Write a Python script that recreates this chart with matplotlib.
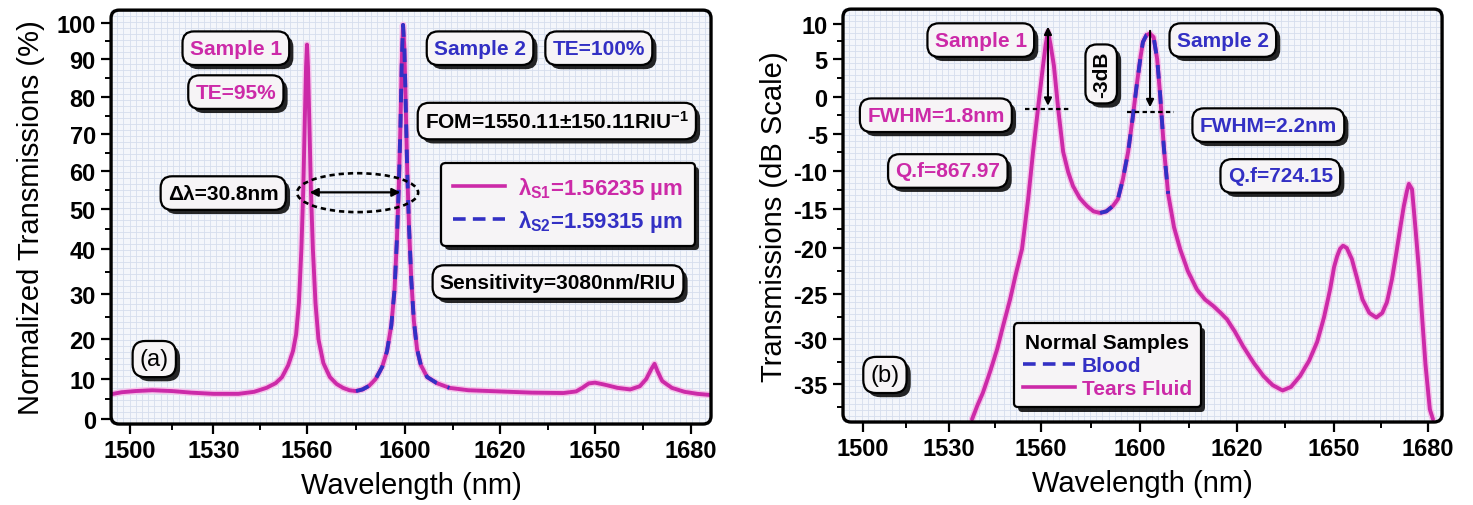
import matplotlib
matplotlib.use('Agg')
import matplotlib.pyplot as plt
import numpy as np
from matplotlib.patches import Ellipse, FancyBboxPatch
from matplotlib.lines import Line2D
import matplotlib.patheffects as pe
import matplotlib.ticker as mticker

plt.rcParams['font.family'] = ['Liberation Sans', 'DejaVu Sans']
plt.rcParams['axes.unicode_minus'] = False
plt.rcParams['mathtext.fontset'] = 'custom'
plt.rcParams['mathtext.rm'] = 'Liberation Sans'
plt.rcParams['mathtext.bf'] = 'Liberation Sans:bold'
plt.rcParams['mathtext.it'] = 'Liberation Sans:italic'

# ---------------- data ----------------
# x ticks (printed labels of the original; the "1600" tick sits where 1590 would be)
tick_pos = [1500, 1530, 1560, 1590, 1620, 1650, 1680]
tick_labels = ['1500', '1530', '1560', '1600', '1620', '1650', '1680']

# the original image is not evenly spaced: tick values and their image columns/rows
a_xt_vals = [1470, 1500, 1530, 1560, 1590, 1620, 1650, 1680, 1710]
a_xt_cols = [46.5, 130, 213.5, 307, 405, 500, 595, 691, 787]
b_xt_vals = [1470, 1500, 1530, 1560, 1590, 1620, 1650, 1680, 1710]
b_xt_cols = [777, 863, 949, 1041, 1140, 1237, 1334, 1428, 1522]
a_yt_vals = [-10, 0, 10, 20, 30, 40, 50, 60, 70, 80, 90, 100, 110]
a_yt_rows = [460, 420, 380, 340, 295, 250, 210, 172, 135, 98, 60, 24, -12]
b_yt_vals = [-45, -35, -30, -25, -20, -15, -10, -5, 0, 5, 10, 15]
b_yt_rows = [475, 385, 340, 295, 249, 210, 172, 135, 98, 60, 25, -10]

# panel (a): normalized transmission (%)
a_x = [1493.2, 1497, 1502, 1508, 1515, 1522, 1530, 1538, 1543, 1547, 1550, 1552,
       1554, 1555.5, 1556.5, 1557.4, 1558.2, 1558.8, 1559.3, 1559.7, 1560.0,
       1560.3, 1560.7, 1561.2, 1561.8, 1562.6, 1563.5, 1565, 1567, 1569, 1571,
       1573, 1575, 1577, 1579, 1581, 1583, 1584.5, 1585.8, 1586.8, 1587.5, 1588.1,
       1588.6, 1589.0, 1589.4, 1589.8, 1590.2, 1590.7, 1591.3, 1592.0, 1592.8,
       1593.8, 1595, 1597, 1600, 1604, 1610, 1620, 1630, 1640, 1644, 1646, 1648,
       1650, 1653, 1657, 1661, 1664, 1666, 1667.6, 1668.6, 1669.5, 1671, 1674,
       1678, 1682, 1686.3]
a_y = [6.2, 6.7, 7.0, 7.2, 7.0, 6.6, 6.3, 6.3, 6.8, 7.8, 9.0, 10.5,
       13.5, 17, 21, 28, 40, 55, 74, 88, 94,
       88, 74, 55, 40, 28, 20, 14, 10.5, 8.8, 7.8,
       7.2, 7.0, 7.4, 8.3, 10, 13, 17, 23, 31, 42, 56,
       72, 89, 99.5, 93, 79, 60, 45, 33, 24,
       17.5, 13.5, 10.5, 9.0, 7.8, 7.2, 6.9, 6.6, 6.5, 6.9, 7.8, 8.9,
       9.1, 8.6, 7.8, 7.4, 8.2, 10, 12.5, 13.8, 12, 9.5, 7.8,
       6.8, 6.3, 6.0]
a_s2_range = (1574, 1606)          # span where the Sample 2 (dashed) trace shows
a_delta_y = 54.4                   # height of the delta-lambda arrow
a_delta_x = (1560.8, 1588.6)

# panel (b): transmission (dB)
b_x = [1537.5, 1539.2, 1541.1, 1543.4, 1545.7, 1547.8, 1549.9, 1551.8, 1553.8,
       1555.8, 1557.4, 1559.0, 1560.6, 1561.4, 1562.1, 1562.9, 1563.9, 1565.2,
       1566.7, 1568.2, 1569.7, 1571.8, 1573.9, 1575.9, 1577.9, 1579.8, 1581.8,
       1583.3, 1584.8, 1586.4, 1587.7, 1588.9, 1590.2, 1590.9, 1592.0, 1593.1,
       1594.2, 1595.3, 1596.2, 1597.4, 1598.7, 1600.5, 1602.4, 1604.8, 1607.6,
       1610.1, 1612.6, 1614.7, 1616.9, 1619.4, 1621.9, 1625.1, 1628.2, 1631.0,
       1634.1, 1636.7, 1639.5, 1642.3, 1644.8, 1646.9, 1648.8, 1650.0, 1651.0,
       1651.9, 1652.9, 1654.1, 1655.7, 1657.3, 1659.1, 1661.3, 1663.5, 1665.4,
       1666.9, 1668.5, 1670.1, 1671.4, 1672.3, 1673.3, 1673.9, 1674.9, 1676.1,
       1677.1, 1678.1, 1679.2, 1680.6, 1681.6]
b_y = [-38.9, -37.4, -35.9, -33.6, -31.1, -28.3, -25.6, -22.8, -20.1,
       -13.7, -7.4, -1.6, 4.1, 7.0, 8.9, 7.0, 4.1, -1.6,
       -7.4, -10.1, -12.0, -13.6, -14.6, -15.3, -15.5, -15.3, -14.6,
       -13.7, -11.1, -7.4, -3.1, 1.2, 5.4, 7.4, 8.4, 8.6,
       8.1, 5.0, 0.4, -7.0, -13.0, -17.3, -20.1, -22.5, -24.5,
       -25.6, -26.3, -27.0, -27.8, -29.2, -30.8, -32.6, -34.1, -35.1,
       -35.7, -35.3, -34.1, -32.4, -30.3, -27.6, -24.5, -22.1, -20.9,
       -20.1, -19.7, -20.0, -21.2, -23.2, -25.6, -27.1, -27.6, -27.1,
       -25.9, -23.4, -20.1, -16.8, -14.6, -12.6, -11.7, -12.4, -17.9,
       -22.3, -27.4, -32.8, -37.8, -38.9]
b_s2_range = (1576, 1599)
b_fwhm_y = (-1.6, -2.0)
b_fwhm_x = ((1554.8, 1568.8), (1586.1, 1600.5))
b_arrow_x = (1562.1, 1593.1)
b_arrow_y = ((9.6, -1.2), (9.0, -1.4))

# ---------------- style ----------------
MAG = '#cc2aa8'
BLU = '#3330c4'
BOXFC = '#f6f4f6'

fig = plt.figure(figsize=(14.73, 5.06), dpi=100)
axA = fig.add_axes([0.0754, 0.160, 0.4073, 0.818])
axB = fig.add_axes([0.5723, 0.164, 0.4067, 0.816])


def warp(vals, pos, flip):
    v = np.asarray(vals, float)
    p = np.asarray(pos, float) * (-1 if flip else 1)
    o = np.argsort(v)
    v, p = v[o], p[o]

    def fwd(x):
        return np.interp(x, v, p)

    def inv(y):
        return np.interp(y, p, v)
    return fwd, inv


def style(ax, xlim, ylim, xscale, yscale, ymajor, yminor):
    ax.set_facecolor('#f4f6fb')
    ax.set_xscale('function', functions=xscale)
    ax.set_yscale('function', functions=yscale)
    ax.set_xlim(*xlim)
    ax.set_ylim(*ylim)
    ax.vlines(np.linspace(0, 1, 98), 0, 1, transform=ax.transAxes,
              colors='#d6dded', lw=0.6, zorder=0)
    ax.hlines(np.linspace(0, 1, 70), 0, 1, transform=ax.transAxes,
              colors='#d6dded', lw=0.6, zorder=0)
    for s in ax.spines.values():
        s.set_visible(False)
    bb = ax.get_position()
    W, H = fig.get_size_inches()
    fig.add_artist(FancyBboxPatch((bb.x0 * W, bb.y0 * H), bb.width * W, bb.height * H,
                                  boxstyle='round,pad=0,rounding_size=0.08',
                                  transform=fig.dpi_scale_trans, fill=False, ec='black',
                                  lw=2.4, zorder=5))
    ax.set_xticks(tick_pos)
    ax.set_xticklabels(tick_labels)
    ax.set_xticks([p + 15 for p in tick_pos[:-1]], minor=True)
    ax.xaxis.set_minor_formatter(mticker.NullFormatter())
    ax.set_yticks(ymajor)
    ax.set_yticklabels([str(v) for v in ymajor])
    ax.set_yticks(yminor, minor=True)
    ax.yaxis.set_minor_formatter(mticker.NullFormatter())
    ax.tick_params(which='major', direction='out', length=7, width=1.6, labelsize=17, pad=4)
    ax.tick_params(which='minor', direction='out', length=4, width=1.4)
    for lab in ax.get_xticklabels() + ax.get_yticklabels():
        lab.set_fontweight('bold')


def tbox(ax, x, y, s, color, fs=15, rot=0, weight='bold', pad=0.35):
    t = ax.text(x, y, s, transform=ax.transAxes, ha='center', va='center', fontsize=fs,
                fontweight=weight, color=color, rotation=rot, zorder=9,
                bbox=dict(boxstyle='round,pad=%g,rounding_size=0.55' % pad, fc=BOXFC,
                          ec='black', lw=1.6))
    t.get_bbox_patch().set_path_effects([
        pe.SimplePatchShadow(offset=(3, -3), shadow_rgbFace='black', alpha=0.85), pe.Normal()])
    return t


glow = [pe.Stroke(linewidth=4.8, foreground='#f4c2ea'), pe.Normal()]

# ---------------- panel (a) ----------------
style(axA, (1493.2, 1686.25), (-1.25, 103.6), warp(a_xt_vals, a_xt_cols, False),
      warp(a_yt_vals, a_yt_rows, True), list(range(0, 101, 10)), list(range(5, 100, 10)))
ax_ = np.array(a_x)
ay_ = np.array(a_y)
axA.plot(ax_, ay_, color=MAG, lw=2.8, zorder=3, path_effects=glow, solid_capstyle='round')
m = (ax_ >= a_s2_range[0]) & (ax_ <= a_s2_range[1])
axA.plot(ax_[m], ay_[m], color=BLU, lw=2.8, ls=(0, (3.5, 3)), zorder=4)
axA.set_xlabel('Wavelength (nm)', fontsize=21, labelpad=6)
axA.set_ylabel('Normalized Transmissions (%)', fontsize=21, labelpad=8)

axA.annotate('', xy=(a_delta_x[1], a_delta_y), xytext=(a_delta_x[0], a_delta_y),
             arrowprops=dict(arrowstyle='<|-|>', color='black', lw=1.6, mutation_scale=12,
                             shrinkA=0, shrinkB=0), zorder=6)
axA.add_patch(Ellipse((0.411, 0.559), 0.2017, 0.094, transform=axA.transAxes, fill=False,
                      ec='black', lw=1.9, ls=(0, (2, 1.5)), zorder=6))

tbox(axA, 0.208, 0.908, 'Sample 1', MAG)
tbox(axA, 0.208, 0.802, 'TE=95%', MAG)
tbox(axA, 0.615, 0.908, 'Sample 2', BLU)
tbox(axA, 0.813, 0.908, 'TE=100%', BLU)
tbox(axA, 0.743, 0.732, r'FOM=1550.11±150.11RIU$^{\mathbf{-1}}$', 'black')
tbox(axA, 0.187, 0.558, 'Δλ=30.8nm', 'black')
tbox(axA, 0.745, 0.343, 'Sensitivity=3080nm/RIU', 'black')
tbox(axA, 0.072, 0.157, '(a)', 'black', fs=17, weight='normal', pad=0.3)

hA = [Line2D([], [], color=MAG, lw=2.6), Line2D([], [], color=BLU, lw=2.6, ls=(0, (3.5, 2)))]
legA = axA.legend(hA, [r'λ$_{\mathbf{S1}}$=1.56235 µm', r'λ$_{\mathbf{S2}}$=1.59315 µm'],
                  loc='center', bbox_to_anchor=(0.762, 0.531), prop={'weight': 'bold', 'size': 16},
                  labelcolor=[MAG, BLU], handlelength=2.3, borderpad=0.55, labelspacing=0.3,
                  handletextpad=0.6, fancybox=True, framealpha=1, edgecolor='black',
                  facecolor=BOXFC)
legA.get_frame().set_linewidth(1.6)
legA.get_frame().set_path_effects([
    pe.SimplePatchShadow(offset=(3, -3), shadow_rgbFace='black', alpha=0.85), pe.Normal()])
legA.set_zorder(9)

# ---------------- panel (b) ----------------
style(axB, (1493.0, 1684.5), (-39.2, 12.1), warp(b_xt_vals, b_xt_cols, False),
      warp(b_yt_vals, b_yt_rows, True), list(range(-35, 11, 5)),
      [v + 2.5 for v in range(-40, 10, 5)])
bx_ = np.array(b_x)
by_ = np.array(b_y)
axB.plot(bx_, by_, color=MAG, lw=2.8, zorder=3, path_effects=glow, solid_capstyle='round')
m = (bx_ >= b_s2_range[0]) & (bx_ <= b_s2_range[1])
axB.plot(bx_[m], by_[m], color=BLU, lw=2.8, ls=(0, (3.5, 3)), zorder=4)
axB.set_xlabel('Wavelength (nm)', fontsize=21, labelpad=6)
axB.set_ylabel('Transmissions (dB Scale)', fontsize=21, labelpad=4)

for i in range(2):
    axB.plot(b_fwhm_x[i], [b_fwhm_y[i]] * 2, color='black', lw=1.6, ls=(0, (2, 1.5)), zorder=6)
axB.annotate('', xy=(b_arrow_x[0], b_arrow_y[0][1]), xytext=(b_arrow_x[0], b_arrow_y[0][0]),
             arrowprops=dict(arrowstyle='<|-|>', color='black', lw=1.5, mutation_scale=11,
                             shrinkA=0, shrinkB=0), zorder=6)
axB.annotate('', xy=(b_arrow_x[1], b_arrow_y[1][1]), xytext=(b_arrow_x[1], b_arrow_y[1][0]),
             arrowprops=dict(arrowstyle='-|>', color='black', lw=1.5, mutation_scale=11,
                             shrinkA=0, shrinkB=0), zorder=6)

tbox(axB, 0.230, 0.925, 'Sample 1', MAG)
tbox(axB, 0.634, 0.925, 'Sample 2', BLU)
tbox(axB, 0.431, 0.843, '-3dB', 'black', rot=90, pad=0.3)
tbox(axB, 0.155, 0.743, 'FWHM=1.8nm', MAG)
tbox(axB, 0.175, 0.608, 'Q.f=867.97', MAG)
tbox(axB, 0.710, 0.719, 'FWHM=2.2nm', BLU)
tbox(axB, 0.730, 0.596, 'Q.f=724.15', BLU)
tbox(axB, 0.070, 0.114, '(b)', 'black', fs=17, weight='normal', pad=0.3)

hB = [Line2D([], [], color=BLU, lw=2.6, ls=(0, (3.5, 2))), Line2D([], [], color=MAG, lw=2.6)]
legB = axB.legend(hB, ['Blood', 'Tears Fluid'], title='Normal Samples',
                  title_fontproperties={'weight': 'bold', 'size': 15},
                  loc='center', bbox_to_anchor=(0.4415, 0.137), prop={'weight': 'bold', 'size': 15},
                  labelcolor=[BLU, MAG], handlelength=2.5, borderpad=0.45, labelspacing=0.2,
                  handletextpad=0.3, fancybox=True, framealpha=1, edgecolor='black',
                  facecolor=BOXFC)
legB.get_frame().set_linewidth(1.6)
legB.get_frame().set_path_effects([
    pe.SimplePatchShadow(offset=(3, -3), shadow_rgbFace='black', alpha=0.85), pe.Normal()])
legB.set_zorder(9)

fig.savefig('out.png', dpi=100, facecolor='white')
